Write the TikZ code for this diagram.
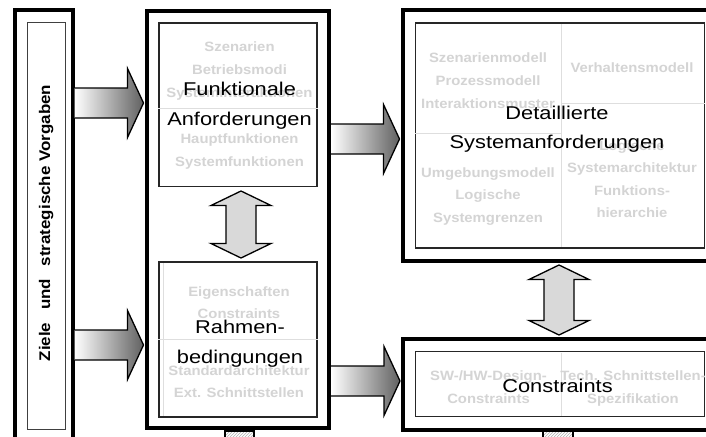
\documentclass[tikz,border=0pt]{standalone}
\usepackage{fontspec}
\setmainfont{Liberation Sans}
\newfontfamily\headfont[FakeStretch=1.18]{Liberation Sans}
\newfontfamily\itemfont[FakeStretch=1.1]{Liberation Sans}
\usetikzlibrary{calc,patterns}

% horizontal block arrow: shaded body, outline open at the tail
\newcommand\hblock[2]{%
  \shade[blockshade] let \p1=(#1), \p2=(#2) in
    (\x1,\y1+15pt) -- (\x2-17pt,\y1+15pt) -- (\x2-17pt,\y1+34.5pt) -- (\x2-1pt,\y1)
    -- (\x2-17pt,\y1-34.5pt) -- (\x2-17pt,\y1-15pt) -- (\x1,\y1-15pt) -- cycle;
  \draw[blockline] let \p1=(#1), \p2=(#2) in
    (\x1,\y1+15pt) -- (\x2-17pt,\y1+15pt) -- (\x2-17pt,\y1+34.5pt) -- (\x2-1pt,\y1)
    -- (\x2-17pt,\y1-34.5pt) -- (\x2-17pt,\y1-15pt) -- (\x1,\y1-15pt);}

% vertical double-headed block arrow between two tips
\newcommand\vdouble[2]{%
  \path[dblarrow] let \p1=(#1), \p2=(#2) in
    (\x1,\y1) -- (\x1+30pt,\y1-14.5pt) -- (\x1+15pt,\y1-14.5pt)
    -- (\x1+15pt,\y2+14.5pt) -- (\x1+30pt,\y2+14.5pt) -- (\x1,\y2)
    -- (\x1-30pt,\y2+14.5pt) -- (\x1-15pt,\y2+14.5pt)
    -- (\x1-15pt,\y1-14.5pt) -- (\x1-30pt,\y1-14.5pt) -- cycle;}

\begin{document}
\begin{tikzpicture}[x=1pt,y=-1pt,
  outerbox/.style={draw=black,line width=4pt,inner sep=0pt},
  innerbox/.style={draw=black!85,line width=1.8pt,inner sep=0pt},
  thinbox/.style={draw=black!75,line width=1pt,inner sep=0pt},
  sepline/.style={draw=black!13,line width=0.9pt},
  blockshade/.style={left color=white,right color=black!62},
  blockline/.style={draw=black,line width=1.3pt,line join=miter},
  dblarrow/.style={draw=black,fill=black!15,line width=1.3pt,line join=miter},
  hatchbox/.style={draw=black,line width=1.2pt,pattern=north east lines,pattern color=black!30,inner sep=0pt},
  gtxt/.style={text=black!17,font=\itemfont\bfseries\fontsize{13.5}{16}\selectfont,inner sep=0pt,anchor=base},
  ttxt/.style={text=black,font=\headfont\fontsize{18.5}{22}\selectfont,inner sep=0pt,anchor=base},
]
\useasboundingbox (0,0) rectangle (706,436);
\clip (0,0) rectangle (706,436);
\fill[white] (0,0) rectangle (706,436);

% ---- frames ----
\node[outerbox,minimum width=58pt,minimum height=450pt] (goals) at (43.5,235) {};
\node[thinbox,minimum width=38pt,minimum height=406pt] (goalsin) at (46,226) {};
\node[outerbox,minimum width=182.5pt,minimum height=417pt] (mid) at (237.75,219.5) {};
\node[innerbox,minimum width=158pt,minimum height=163.5pt] (fa) at (238,104.75) {};
\node[innerbox,minimum width=158pt,minimum height=155pt] (rb) at (238,339.5) {};
\node[outerbox,minimum width=327.5pt,minimum height=250.5pt] (det) at (566.25,135.25) {};
\node[innerbox,minimum width=289pt,minimum height=225pt] (detin) at (560,135.5) {};
\node[outerbox,minimum width=327pt,minimum height=90.5pt] (con) at (566.5,384.25) {};
\node[innerbox,minimum width=289pt,minimum height=65pt] (conin) at (560,384) {};

% hatched stubs below the frames
\node[hatchbox,minimum width=29pt,minimum height=16pt] (stub1) at (239.5,439) {};
\node[hatchbox,minimum width=30pt,minimum height=16pt] (stub2) at (558,439) {};

% ---- quadrant separators ----
\draw[sepline] (fa.west |- 0,108) -- (fa.east |- 0,108);
\draw[sepline] (rb.west |- 0,339) -- (rb.east |- 0,339);
\draw[sepline] (163,263) -- (163,416);
\draw[sepline] (561,24) -- (561,247);
\draw[sepline] (detin.west |- 0,133) -- (561,133);
\draw[sepline] (561,103) -- (detin.east |- 0,103);
\draw[sepline] (561,352.5) -- (561,415.5);

% ---- arrows ----
\coordinate (r1) at (0,103);
\coordinate (r2) at (0,345);
\coordinate (r3) at (0,139);
\coordinate (r4) at (0,381);
\hblock{goals.east |- r1}{mid.west |- r1}
\hblock{goals.east |- r2}{mid.west |- r2}
\hblock{mid.east |- r3}{det.west |- r3}
\hblock{mid.east |- r4}{con.west |- r4}
\vdouble{$(fa.south)+(3,3.6)$}{$(rb.north)+(3,-3.1)$}
\vdouble{$(det.south)+(-7.25,2.5)$}{$(con.north)+(-7.5,-2)$}

% ---- faint item lists ----
\foreach \t [count=\i from 0] in {Szenarien,Betriebsmodi,Systeminteraktionen}
  \node[gtxt] (fa-a\i) at (239.5,52+22.75*\i) {\t};
\foreach \t [count=\i from 0] in {Hauptfunktionen,Systemfunktionen}
  \node[gtxt] (fa-b\i) at (239.5,143+23*\i) {\t};
\foreach \t [count=\i from 0] in {Eigenschaften,Constraints}
  \node[gtxt] (rb-a\i) at (239,296+22*\i) {\t};
\foreach \t [count=\i from 0] in {Standardarchitektur,Ext. Schnittstellen}
  \node[gtxt] (rb-b\i) at (239,375+22*\i) {\t};
\foreach \t [count=\i from 0] in {Szenarienmodell,Prozessmodell,Interaktionsmuster}
  \node[gtxt] (det-a\i) at (488,63+22.5*\i) {\t};
\node[gtxt] (det-b0) at (632,72) {Verhaltensmodell};
\foreach \t [count=\i from 0] in {Umgebungsmodell,Logische,Systemgrenzen}
  \node[gtxt] (det-c\i) at (488,177+22.5*\i) {\t};
\foreach \t [count=\i from 0] in {Logische,Systemarchitektur,Funktions-,hierarchie}
  \node[gtxt] (det-d\i) at (632,150+22.5*\i) {\t};
\foreach \t [count=\i from 0] in {SW-/HW-Design-,Constraints}
  \node[gtxt] (con-a\i) at (488.5,380+23*\i) {\t};
\foreach \t [count=\i from 0] in {Tech. Schnittstellen-,Spezifikation}
  \node[gtxt] (con-b\i) at (633,380+23*\i) {\t};

% ---- titles ----
\node[rotate=90,anchor=base,inner sep=0pt,font=\itemfont\bfseries\fontsize{15.4}{18}\selectfont]
  (goalstxt) at (50,223) {Ziele\hspace{8pt} und\hspace{8pt} strategische Vorgaben};
\node[ttxt] (fa-t1) at (239.5,95) {Funktionale};
\node[ttxt] (fa-t2) at (239.5,125) {Anforderungen};
\node[ttxt] (rb-t1) at (240,333) {Rahmen-};
\node[ttxt] (rb-t2) at (240,363) {bedingungen};
\node[ttxt] (det-t1) at (557,119) {Detaillierte};
\node[ttxt] (det-t2) at (557,148) {Systemanforderungen};
\node[ttxt] (con-t) at (557.5,392) {Constraints};
\end{tikzpicture}
\end{document}
